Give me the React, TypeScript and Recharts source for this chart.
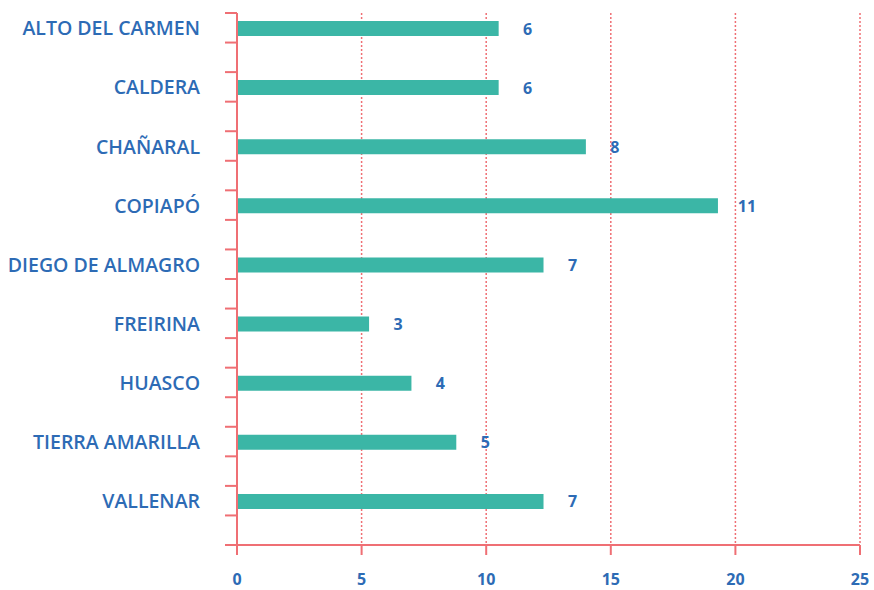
import { BarChart, Bar, XAxis, YAxis, CartesianGrid, LabelList } from "recharts";

const comunas = [
  "ALTO DEL CARMEN",
  "CALDERA",
  "CHAÑARAL",
  "COPIAPÓ",
  "DIEGO DE ALMAGRO",
  "FREIRINA",
  "HUASCO",
  "TIERRA AMARILLA",
  "VALLENAR",
];
// bar length (share, %) and the count printed next to it
const porcentaje = [10.5, 10.5, 14.0, 19.3, 12.3, 5.3, 7.0, 8.8, 12.3];
const casos = [6, 6, 8, 11, 7, 3, 4, 5, 7];
const xTicks = [0, 5, 10, 15, 20, 25];

const RED = "#ef6f74";
const TEAL = "#3bb6a6";
const BLUE = "#2d6bb5";
const FONT = "'Open Sans', sans-serif";

const W = 874;
const H = 590;
const TOP = 13;
const BOTTOM = 45;
const AXIS_X = 237;
const BAND = (H - TOP - BOTTOM) / comunas.length;

const data = comunas.map((name, i) => ({ name, pct: porcentaje[i], n: casos[i] }));

function CategoryTick(props: any) {
  const { y, payload, index } = props;
  const last = index === comunas.length - 1;
  const tick = (ty: number) => (
    <line x1={AXIS_X - 12} x2={AXIS_X} y1={ty} y2={ty} stroke={RED} strokeWidth={2} />
  );
  return (
    <g>
      {tick(y - BAND / 2)}
      {tick(y)}
      {last && tick(y + BAND / 2)}
      <text
        x={AXIS_X - 37}
        y={y - BAND / 4}
        textAnchor="end"
        dominantBaseline="central"
        fill={BLUE}
        fontFamily={FONT}
        fontWeight={600}
        fontSize={19.5}
      >
        {payload.value}
      </text>
    </g>
  );
}

function CountLabel(props: any) {
  const { x, y, width, height, value } = props;
  return (
    <text
      x={x + width + 29}
      y={y + height / 2}
      textAnchor="middle"
      dominantBaseline="central"
      fill={BLUE}
      fontFamily={FONT}
      fontWeight={700}
      fontSize={16}
    >
      {value}
    </text>
  );
}

export default function App() {
  return (
    <div style={{ position: "absolute", left: 0, top: 0, width: W, height: H, background: "#fff" }}>
      <BarChart
        width={W}
        height={H}
        data={data}
        layout="vertical"
        margin={{ top: TOP, right: 14, bottom: 0, left: 0 }}
        barGap={13}
      >
        <CartesianGrid horizontal={false} stroke={RED} strokeWidth={1.5} strokeDasharray="2 2" />
        <XAxis
          type="number"
          domain={[0, 25]}
          ticks={xTicks}
          height={BOTTOM}
          axisLine={{ stroke: RED, strokeWidth: 2 }}
          tickLine={{ stroke: RED, strokeWidth: 2 }}
          tickSize={10}
          tickMargin={19}
          tick={{ fill: BLUE, fontFamily: FONT, fontWeight: 700, fontSize: 16 }}
        />
        <YAxis
          type="category"
          dataKey="name"
          width={AXIS_X}
          axisLine={{ stroke: RED, strokeWidth: 2 }}
          tickLine={false}
          tick={<CategoryTick />}
          interval={0}
        />
        <Bar dataKey="pct" fill={TEAL} barSize={15} isAnimationActive={false}>
          <LabelList dataKey="n" content={<CountLabel />} />
        </Bar>
        <Bar dataKey="n" fill="transparent" barSize={15} isAnimationActive={false} />
      </BarChart>
    </div>
  );
}
